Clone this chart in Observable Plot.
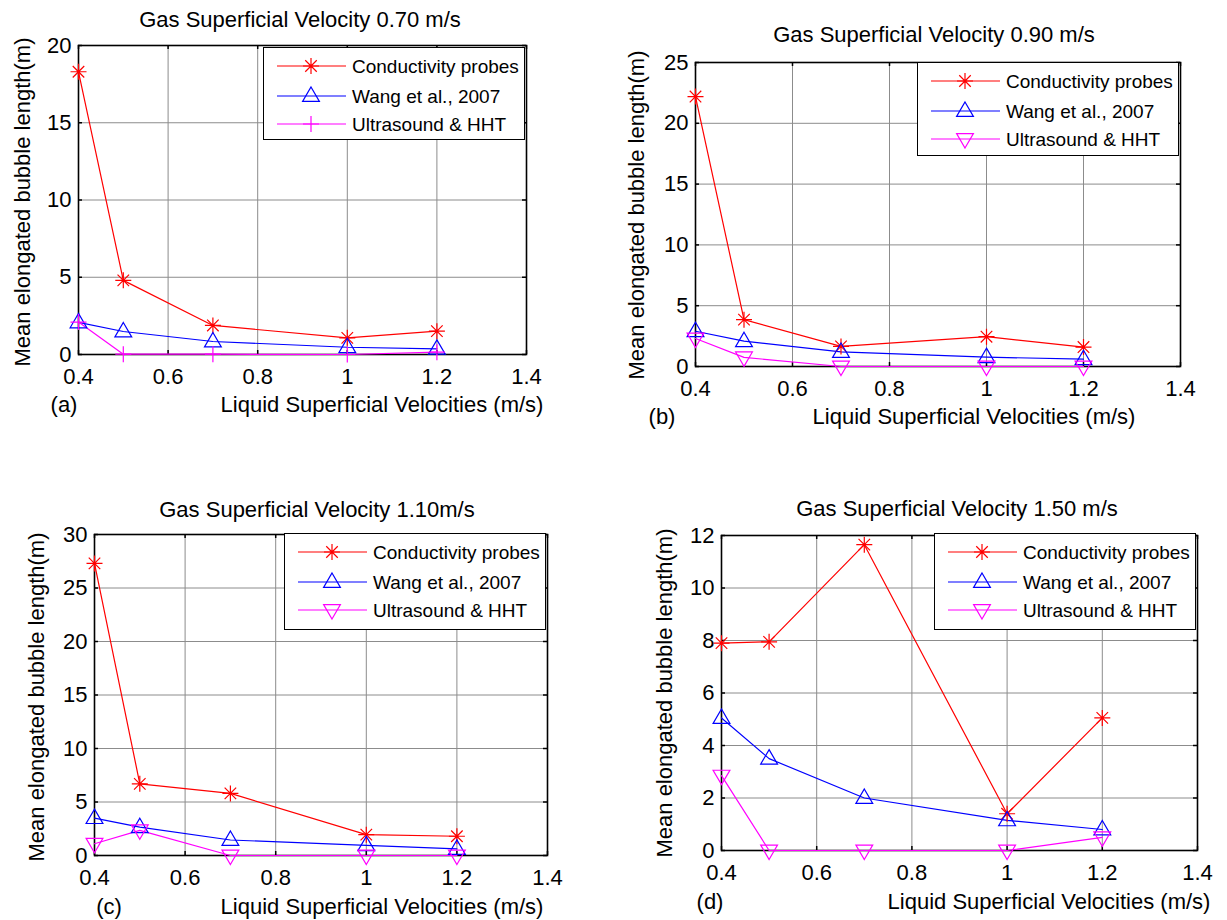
<!DOCTYPE html>
<html>
<head>
<meta charset="utf-8">
<script src="https://cdn.jsdelivr.net/npm/d3@7"></script>
<script src="https://cdn.jsdelivr.net/npm/@observablehq/plot@0.6"></script>
<style>
  html, body { margin: 0; padding: 0; background: #fff; }
  #root { position: relative; width: 1227px; height: 920px; background: #fff; overflow: hidden;
          font-family: "Liberation Sans", Arial, sans-serif; color: #000; }
  .txt { position: absolute; white-space: nowrap; line-height: 1; transform: translate(-50%, -50%); }
  .ylab { position: absolute; white-space: nowrap; line-height: 1; transform: translate(-50%, -50%) rotate(-90deg); }
  .panel { position: absolute; }
  .legend { position: absolute; background: #fff; border: 1.5px solid #000; box-sizing: border-box; }
</style>
</head>
<body>
<div id="root"></div>
<script>
// ---------------- DATA ----------------
const xVals = [0.4, 0.5, 0.7, 1.0, 1.2];
const xTicks = [0.4, 0.6, 0.8, 1, 1.2, 1.4];
const xTickLabels = ["0.4", "0.6", "0.8", "1", "1.2", "1.4"];

const seriesNames = ["Conductivity probes", "Wang et al., 2007", "Ultrasound & HHT"];
const seriesColors = ["#ff0000", "#0000ff", "#ff00ff"];

const panelTitles = [
  "Gas Superficial Velocity 0.70 m/s",
  "Gas Superficial Velocity 0.90 m/s",
  "Gas Superficial Velocity 1.10m/s",
  "Gas Superficial Velocity 1.50 m/s"
];
const panelLetters = ["(a)", "(b)", "(c)", "(d)"];
const xAxisLabel = "Liquid Superficial Velocities (m/s)";
const yAxisLabel = "Mean elongated bubble length(m)";

const yTicksA = [0, 5, 10, 15, 20];
const yTicksB = [0, 5, 10, 15, 20, 25];
const yTicksC = [0, 5, 10, 15, 20, 25, 30];
const yTicksD = [0, 2, 4, 6, 8, 10, 12];

// (a) Gas 0.70 m/s
const condA  = [18.3, 4.8, 1.88, 1.08, 1.51];
const wangA  = [2.08, 1.49, 0.84, 0.47, 0.37];
const ultraA = [2.1, 0.02, 0.02, 0.0, 0.15];
// (b) Gas 0.90 m/s
const condB  = [22.2, 3.85, 1.65, 2.45, 1.6];
const wangB  = [2.9, 2.08, 1.2, 0.77, 0.6];
const ultraB = [2.3, 0.75, 0.0, 0.0, 0.0];
// (c) Gas 1.10 m/s
const condC  = [27.3, 6.7, 5.8, 1.95, 1.8];
const wangC  = [3.5, 2.65, 1.45, 0.95, 0.62];
const ultraC = [1.1, 2.35, 0.0, 0.0, 0.0];
// (d) Gas 1.50 m/s
const condD  = [7.9, 7.95, 11.65, 1.4, 5.05];
const wangD  = [5.05, 3.5, 2.0, 1.15, 0.8];
const ultraD = [2.85, 0.0, 0.0, 0.0, 0.5];

// ---------------- SYMBOLS ----------------
const rad = size => Math.sqrt(size / Math.PI);
const symStar = { draw(ctx, size) { const r = rad(size), d = r * 0.72;
  ctx.moveTo(-r, 0); ctx.lineTo(r, 0); ctx.moveTo(0, -r); ctx.lineTo(0, r);
  ctx.moveTo(-d, -d); ctx.lineTo(d, d); ctx.moveTo(-d, d); ctx.lineTo(d, -d); } };
const symTriUp = { draw(ctx, size) { const r = rad(size);
  ctx.moveTo(0, -1.12 * r); ctx.lineTo(1.05 * r, 0.68 * r); ctx.lineTo(-1.05 * r, 0.68 * r); ctx.closePath(); } };
const symTriDown = { draw(ctx, size) { const r = rad(size);
  ctx.moveTo(0, 1.12 * r); ctx.lineTo(1.05 * r, -0.68 * r); ctx.lineTo(-1.05 * r, -0.68 * r); ctx.closePath(); } };
const symPlus = { draw(ctx, size) { const r = rad(size);
  ctx.moveTo(-r, 0); ctx.lineTo(r, 0); ctx.moveTo(0, -r); ctx.lineTo(0, r); } };

// ---------------- LAYOUT ----------------
const panels = [
  { title: panelTitles[0], letter: panelLetters[0], yTicks: yTicksA, series: [condA, wangA, ultraA], syms: [symStar, symTriUp, symPlus],
    f: { l: 78, r: 526, t: 45, b: 354 }, tt: [300, 20], lt: [64, 405], xl: [382, 405], yl: [23, 202], lg: [263, 47, 93] },
  { title: panelTitles[1], letter: panelLetters[1], yTicks: yTicksB, series: [condB, wangB, ultraB], syms: [symStar, symTriUp, symTriDown],
    f: { l: 695, r: 1180, t: 62, b: 366 }, tt: [934, 35], lt: [662, 417], xl: [974, 417], yl: [637, 215], lg: [917, 62, 94] },
  { title: panelTitles[2], letter: panelLetters[2], yTicks: yTicksC, series: [condC, wangC, ultraC], syms: [symStar, symTriUp, symTriDown],
    f: { l: 94, r: 547, t: 534, b: 855 }, tt: [317, 510], lt: [109, 907], xl: [382, 907], yl: [37, 697], lg: [284, 533, 97] },
  { title: panelTitles[3], letter: panelLetters[3], yTicks: yTicksD, series: [condD, wangD, ultraD], syms: [symStar, symTriUp, symTriDown],
    f: { l: 721, r: 1197, t: 535, b: 850 }, tt: [957, 509], lt: [710, 902], xl: [1049, 902], yl: [665, 693], lg: [934, 533, 97] }
];

const root = document.getElementById("root");
const ML = 60, MR = 25, MT = 20, MB = 45;
const FONT = '"Liberation Sans", Arial, sans-serif';

function addText(cls, x, y, text, size) {
  const d = document.createElement("div");
  d.className = cls;
  d.style.left = x + "px"; d.style.top = y + "px";
  d.style.fontSize = size + "px";
  d.textContent = text;
  root.appendChild(d);
}

panels.forEach(p => {
  const fw = p.f.r - p.f.l, fh = p.f.b - p.f.t;
  const rows = [];
  p.series.forEach((vals, si) => vals.forEach((v, i) => rows.push({ x: xVals[i], y: v, s: seriesNames[si] })));
  const ymax = p.yTicks[p.yTicks.length - 1];
  const tkY = ymax * 4 / fh;   // ~4px inward tick, in data units
  const tkX = 1.0 * 4 / fw;

  const marks = [
    Plot.gridX(xTicks, { stroke: "#8c8c8c", strokeOpacity: 1, strokeWidth: 1 }),
    Plot.gridY(p.yTicks, { stroke: "#8c8c8c", strokeOpacity: 1, strokeWidth: 1 }),
    Plot.frame({ stroke: "#000", strokeWidth: 1.6 }),
    Plot.axisX(xTicks, { tickSize: 0, tickPadding: 14, fontSize: 22, fontFamily: FONT,
      tickFormat: d => xTickLabels[xTicks.indexOf(d)], label: null }),
    Plot.axisY(p.yTicks, { tickSize: 0, tickPadding: 7, fontSize: 22, fontFamily: FONT, label: null }),
    Plot.ruleX(xTicks, { x: d => d, y1: 0, y2: tkY, stroke: "#000", strokeWidth: 1.5 }),
    Plot.ruleX(xTicks, { x: d => d, y1: ymax, y2: ymax - tkY, stroke: "#000", strokeWidth: 1.5 }),
    Plot.ruleY(p.yTicks, { y: d => d, x1: 0.4, x2: 0.4 + tkX, stroke: "#000", strokeWidth: 1.5 }),
    Plot.ruleY(p.yTicks, { y: d => d, x1: 1.4, x2: 1.4 - tkX, stroke: "#000", strokeWidth: 1.5 })
  ];
  seriesNames.forEach((name, si) => {
    const data = rows.filter(r => r.s === name);
    marks.push(Plot.line(data, { x: "x", y: "y", stroke: seriesColors[si], strokeWidth: 1.2 }));
  });
  seriesNames.forEach((name, si) => {
    const data = rows.filter(r => r.s === name);
    marks.push(Plot.dot(data, { x: "x", y: "y", symbol: p.syms[si], r: 8, stroke: seriesColors[si], fill: "none", strokeWidth: 1.2 }));
  });

  const chart = Plot.plot({
    width: fw + ML + MR, height: fh + MT + MB,
    marginLeft: ML, marginRight: MR, marginTop: MT, marginBottom: MB,
    x: { domain: [0.4, 1.4], axis: null },
    y: { domain: [0, ymax], axis: null },
    style: { fontFamily: FONT, fontSize: "22px", color: "#000", background: "transparent", overflow: "visible" },
    marks
  });
  const wrap = document.createElement("div");
  wrap.className = "panel";
  wrap.style.left = (p.f.l - ML) + "px";
  wrap.style.top = (p.f.t - MT) + "px";
  wrap.appendChild(chart);
  root.appendChild(wrap);

  addText("txt", p.tt[0], p.tt[1], p.title, 22);
  addText("txt", p.lt[0], p.lt[1], p.letter, 22);
  addText("txt", p.xl[0], p.xl[1], xAxisLabel, 22);
  addText("ylab", p.yl[0], p.yl[1], yAxisLabel, 22);

  // legend box
  const lgW = p.f.r - p.lg[0] - 1, lgH = p.lg[2];
  const lg = document.createElement("div");
  lg.className = "legend";
  lg.style.left = p.lg[0] + "px"; lg.style.top = p.lg[1] + "px";
  lg.style.width = lgW + "px"; lg.style.height = lgH + "px";
  root.appendChild(lg);
  const svg = d3.select(lg).append("svg").attr("width", lgW).attr("height", lgH)
    .style("position", "absolute").style("left", "-1.5px").style("top", "-1.5px").style("overflow", "visible");
  const rowY = [19, 49, 77];
  seriesNames.forEach((name, si) => {
    const y = rowY[si];
    svg.append("line").attr("x1", 14).attr("x2", 83).attr("y1", y).attr("y2", y)
      .attr("stroke", seriesColors[si]).attr("stroke-width", 1.2);
    const path = d3.path();
    p.syms[si].draw(path, 64 * Math.PI);
    svg.append("path").attr("d", path.toString()).attr("transform", `translate(48,${y})`)
      .attr("fill", "none").attr("stroke", seriesColors[si]).attr("stroke-width", 1.2);
    svg.append("text").attr("x", 89).attr("y", y).attr("dy", "0.35em")
      .attr("font-family", FONT).attr("font-size", 19).attr("fill", "#000").text(name);
  });
});
</script>
</body>
</html>
